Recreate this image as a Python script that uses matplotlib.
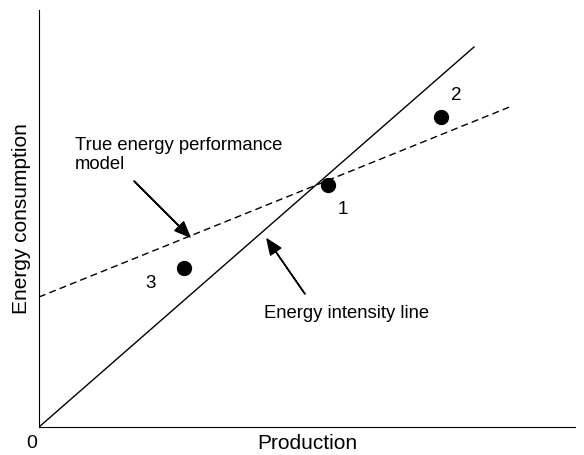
import matplotlib.pyplot as plt

plt.rcParams['font.family'] = ['Liberation Sans', 'DejaVu Sans']
plt.rcParams['font.size'] = 13

# chart values (arbitrary units)
intensity_x = [0, 435]
intensity_y = [0, 380]
model_x = [0, 473]
model_y = [130, 321]
points_x = [289, 402, 145]
points_y = [242, 310, 159]
point_labels = ['1', '2', '3']
label_pos = [(304, 218), (417, 332), (112, 143)]

fig = plt.figure(figsize=(5.84, 4.55), dpi=100)
ax = fig.add_axes([39 / 584, 28 / 455, 536 / 584, 417 / 455])
ax.set_xlim(0, 536)
ax.set_ylim(0, 417)

ax.plot(intensity_x, intensity_y, color='black', linewidth=1)
ax.plot(model_x, model_y, color='black', linewidth=1, linestyle=(0, (5, 3)))
ax.plot(points_x, points_y, 'o', color='black', markersize=10)
for lab, (x, y) in zip(point_labels, label_pos):
    ax.text(x, y, lab, ha='center', va='center', fontsize=13.5)

arrow = dict(facecolor='black', edgecolor='black', width=0.3, headwidth=9, headlength=11, shrink=0)
ax.text(36, 272, 'True energy performance\nmodel', ha='left', va='center',
        fontsize=13.3, linespacing=1.15)
ax.annotate('', xy=(151, 190), xytext=(95, 246), arrowprops=arrow)
ax.annotate('', xy=(228, 188), xytext=(266, 133), arrowprops=arrow)
ax.text(308, 114, 'Energy intensity line', ha='center', va='center', fontsize=13.3)

ax.spines['top'].set_visible(False)
ax.spines['right'].set_visible(False)
ax.set_xticks([])
ax.set_yticks([])
ax.set_xlabel('Production', fontsize=15, labelpad=5)
ax.set_ylabel('Energy consumption', fontsize=15, labelpad=6)
ax.text(-7, -17, '0', ha='center', va='center', fontsize=14)

fig.savefig('out.png', dpi=100)
